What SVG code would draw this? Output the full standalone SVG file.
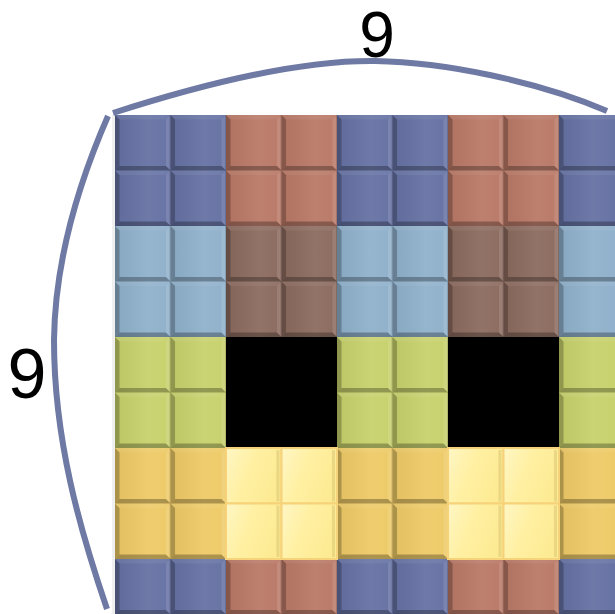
<svg xmlns="http://www.w3.org/2000/svg" xmlns:xlink="http://www.w3.org/1999/xlink" width="615" height="614" viewBox="0 0 615 614">
<style>
.lbl{font-family:"Liberation Sans",Arial,sans-serif;fill:#000;text-anchor:middle}
.brace{fill:none;stroke:#6e79a4;stroke-width:6;stroke-linecap:butt}
.bl{fill:#6571a3}.tc{fill:#b97866}.lb{fill:#8fb0cb}.br{fill:#8b6a5e}.gr{fill:#c7d16b}.go{fill:#eeca66}
</style>
<defs>
<linearGradient id="sheen" x1="0" y1="0" x2="1" y2="0">
<stop offset="0" stop-color="#000" stop-opacity="0.05"/>
<stop offset="0.6" stop-color="#fff" stop-opacity="0.06"/>
<stop offset="1" stop-color="#fff" stop-opacity="0.02"/>
</linearGradient>
<linearGradient id="pale" x1="0" y1="0" x2="1" y2="0.4">
<stop offset="0" stop-color="#fff6c4"/>
<stop offset="0.5" stop-color="#fff0a2"/>
<stop offset="1" stop-color="#fdeb94"/>
</linearGradient>
<g id="bevel">
<rect x="0" y="0" width="55" height="55" fill="url(#sheen)"/>
<polygon points="0,0 4.5,4.5 4.5,50.5 0,55" fill="#000" fill-opacity="0.24"/>
<polygon points="0,55 4.5,50.5 50.5,50.5 55,55" fill="#000" fill-opacity="0.28"/>
<polygon points="0,0 55,0 50.5,4.5 4.5,4.5" fill="#fff" fill-opacity="0.06"/>
<polygon points="55,0 55,55 50.5,50.5 50.5,4.5" fill="#fff" fill-opacity="0.12"/>
<line x1="54.5" y1="0" x2="54.5" y2="55" stroke="#000" stroke-opacity="0.15" stroke-width="1"/>
</g>
<g id="bevelCut">
<rect x="0" y="0" width="56" height="55" fill="url(#sheen)"/>
<polygon points="0,0 4.5,4.5 4.5,50.5 0,55" fill="#000" fill-opacity="0.24"/>
<polygon points="0,55 4.5,50.5 56,50.5 56,55" fill="#000" fill-opacity="0.28"/>
<polygon points="0,0 56,0 56,4.5 4.5,4.5" fill="#fff" fill-opacity="0.06"/>
</g>
<g id="paleTile">
<rect x="0" y="0" width="55" height="55" fill="url(#pale)"/>
<rect x="50" y="2" width="3" height="51" fill="#c9b060" fill-opacity="0.35"/>
<rect x="0" y="0" width="55" height="55" fill="none" stroke="#f6d27a" stroke-width="2"/>
</g>
</defs>
<rect width="615" height="614" fill="#fff"/>
<rect x="112" y="115" width="3" height="499" fill="#000" fill-opacity="0.06"/>
<g id="grid" transform="translate(115 115) scale(1.00909)">
<g id="row0-1">
<rect class="bl" x="0" y="0" width="110" height="110"/>
<rect class="tc" x="110" y="0" width="110" height="110"/>
<rect class="bl" x="220" y="0" width="110" height="110"/>
<rect class="tc" x="330" y="0" width="110" height="110"/>
<rect class="bl" x="440" y="0" width="56" height="110"/>
</g>
<g id="row2-3">
<rect class="lb" x="0" y="110" width="110" height="110"/>
<rect class="br" x="110" y="110" width="110" height="110"/>
<rect class="lb" x="220" y="110" width="110" height="110"/>
<rect class="br" x="330" y="110" width="110" height="110"/>
<rect class="lb" x="440" y="110" width="56" height="110"/>
</g>
<g id="row4-5">
<rect class="gr" x="0" y="220" width="110" height="110"/>
<rect class="gr" x="220" y="220" width="110" height="110"/>
<rect class="gr" x="440" y="220" width="56" height="110"/>
</g>
<g id="row6-7">
<rect class="go" x="0" y="330" width="110" height="110"/>
<rect class="go" x="220" y="330" width="110" height="110"/>
<rect class="go" x="440" y="330" width="56" height="110"/>
</g>
<g id="row8">
<rect class="bl" x="0" y="440" width="110" height="55"/>
<rect class="tc" x="110" y="440" width="110" height="55"/>
<rect class="bl" x="220" y="440" width="110" height="55"/>
<rect class="tc" x="330" y="440" width="110" height="55"/>
<rect class="bl" x="440" y="440" width="56" height="55"/>
</g>
<g id="bevels">
<use xlink:href="#bevel" x="0" y="0"/><use xlink:href="#bevel" x="55" y="0"/><use xlink:href="#bevel" x="110" y="0"/><use xlink:href="#bevel" x="165" y="0"/><use xlink:href="#bevel" x="220" y="0"/><use xlink:href="#bevel" x="275" y="0"/><use xlink:href="#bevel" x="330" y="0"/><use xlink:href="#bevel" x="385" y="0"/><use xlink:href="#bevelCut" x="440" y="0"/>
<use xlink:href="#bevel" x="0" y="55"/><use xlink:href="#bevel" x="55" y="55"/><use xlink:href="#bevel" x="110" y="55"/><use xlink:href="#bevel" x="165" y="55"/><use xlink:href="#bevel" x="220" y="55"/><use xlink:href="#bevel" x="275" y="55"/><use xlink:href="#bevel" x="330" y="55"/><use xlink:href="#bevel" x="385" y="55"/><use xlink:href="#bevelCut" x="440" y="55"/>
<use xlink:href="#bevel" x="0" y="110"/><use xlink:href="#bevel" x="55" y="110"/><use xlink:href="#bevel" x="110" y="110"/><use xlink:href="#bevel" x="165" y="110"/><use xlink:href="#bevel" x="220" y="110"/><use xlink:href="#bevel" x="275" y="110"/><use xlink:href="#bevel" x="330" y="110"/><use xlink:href="#bevel" x="385" y="110"/><use xlink:href="#bevelCut" x="440" y="110"/>
<use xlink:href="#bevel" x="0" y="165"/><use xlink:href="#bevel" x="55" y="165"/><use xlink:href="#bevel" x="110" y="165"/><use xlink:href="#bevel" x="165" y="165"/><use xlink:href="#bevel" x="220" y="165"/><use xlink:href="#bevel" x="275" y="165"/><use xlink:href="#bevel" x="330" y="165"/><use xlink:href="#bevel" x="385" y="165"/><use xlink:href="#bevelCut" x="440" y="165"/>
<use xlink:href="#bevel" x="0" y="220"/><use xlink:href="#bevel" x="55" y="220"/><use xlink:href="#bevel" x="220" y="220"/><use xlink:href="#bevel" x="275" y="220"/><use xlink:href="#bevelCut" x="440" y="220"/>
<use xlink:href="#bevel" x="0" y="275"/><use xlink:href="#bevel" x="55" y="275"/><use xlink:href="#bevel" x="220" y="275"/><use xlink:href="#bevel" x="275" y="275"/><use xlink:href="#bevelCut" x="440" y="275"/>
<use xlink:href="#bevel" x="0" y="330"/><use xlink:href="#bevel" x="55" y="330"/><use xlink:href="#bevel" x="220" y="330"/><use xlink:href="#bevel" x="275" y="330"/><use xlink:href="#bevelCut" x="440" y="330"/>
<use xlink:href="#bevel" x="0" y="385"/><use xlink:href="#bevel" x="55" y="385"/><use xlink:href="#bevel" x="220" y="385"/><use xlink:href="#bevel" x="275" y="385"/><use xlink:href="#bevelCut" x="440" y="385"/>
<use xlink:href="#bevel" x="0" y="440"/><use xlink:href="#bevel" x="55" y="440"/><use xlink:href="#bevel" x="110" y="440"/><use xlink:href="#bevel" x="165" y="440"/><use xlink:href="#bevel" x="220" y="440"/><use xlink:href="#bevel" x="275" y="440"/><use xlink:href="#bevel" x="330" y="440"/><use xlink:href="#bevel" x="385" y="440"/><use xlink:href="#bevelCut" x="440" y="440"/>
</g>
<g id="eyes">
<rect x="110" y="220" width="110" height="110" fill="#000"/>
<rect x="330" y="220" width="110" height="110" fill="#000"/>
</g>
<g id="paleBlocks">
<use xlink:href="#paleTile" x="110" y="330"/><use xlink:href="#paleTile" x="165" y="330"/>
<use xlink:href="#paleTile" x="110" y="385"/><use xlink:href="#paleTile" x="165" y="385"/>
<use xlink:href="#paleTile" x="330" y="330"/><use xlink:href="#paleTile" x="385" y="330"/>
<use xlink:href="#paleTile" x="330" y="385"/><use xlink:href="#paleTile" x="385" y="385"/>
</g>
</g>
<g id="connectors">
<path class="brace" d="M113,113 C200,85 300,60 375,61 C445,62 540,82 607,111"/>
<path class="brace" d="M108,116 C80,180 55,260 54,340 C54,440 80,530 107,609"/>
</g>
<g id="labels">
<text class="lbl" x="377" y="57" font-size="64">9</text>
<text class="lbl" x="27" y="398" font-size="70">9</text>
</g>
</svg>
